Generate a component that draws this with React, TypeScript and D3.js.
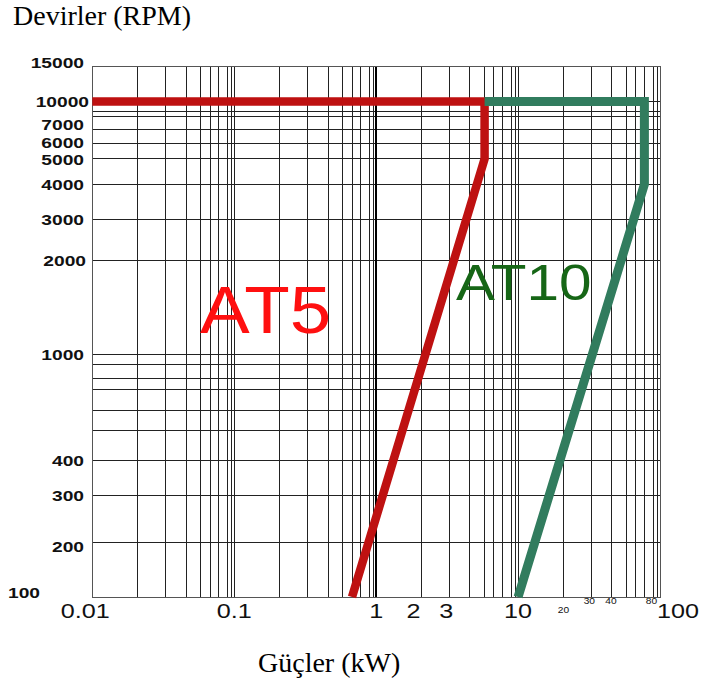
import React from 'react';
import * as d3 from 'd3';

// curves (kW, rpm)
const at5Power = [0.01, 5, 5, 0.6];
const at5Rpm = [10000, 10000, 5000, 100];
const at10Power = [5, 70, 70, 10];
const at10Rpm = [10000, 10000, 4000, 100];

const yTickValues = [15000, 10000, 7000, 6000, 5000, 4000, 3000, 2000, 1000, 400, 300, 200, 100];
const xTickLabels = ['0.01', '0.1', '1', '2', '3', '10', '100'];
const xSmallLabels = ['20', '30', '40', '80'];

// the paper is not a true log grid: grid values and where they sit (fraction of height)
const yStops = [100, 200, 300, 400, 500, 600, 700, 800, 900, 1000, 2000, 3000, 4000, 5000, 6000, 7000, 8000, 9000, 10000, 15000];
const yPaper = [0, .103, .192, .258, .313, .352, .390, .412, .437, .456, .633, .711, .777, .825, .854, .881, .905, .915, .933, 1];
const mantissaPaper = [0, .32, .516, .661, .764, .83, .89, .954, .98, 1];

const left = 92.3, right = 660, top = 66, bottom = 597;

const warp = d3.scaleLinear().domain([1, 2, 3, 4, 5, 6, 7, 8, 9, 10]).range(mantissaPaper);
const decades = d3.scaleLinear().domain([0, 4]).range([left, right]);
const x = (v: number) => {
  const d = Math.min(3, Math.floor(Math.log10(v / 0.01) + 1e-9));
  const m = v / (0.01 * Math.pow(10, d));
  return decades(d + warp(m));
};
const yLog = d3.scaleLinear()
  .domain(yStops.map(Math.log10))
  .range(yPaper.map(f => bottom - f * (bottom - top)));
const y = (v: number) => yLog(Math.log10(v));

const xGrid: number[] = [];
[0.01, 0.1, 1, 10].forEach(base => {
  for (let m = 1; m <= 9; m++) xGrid.push(+(m * base).toPrecision(3));
});

const line = d3.line<[number, number]>().x(d => x(d[0])).y(d => y(d[1]));
const zip = (a: number[], b: number[]) => a.map((v, i) => [v, b[i]] as [number, number]);

// hand placed labels on the original sheet
const xDx: Record<string, number> = { '0.01': -7, '2': -8, '3': -3, '100': 18 };
const xSmallDx: Record<string, number> = { '30': -2, '40': -1, '80': -2 };
const yDy: Record<number, number> = { 15000: -4, 7000: -5, 6000: -1, 5000: 1, 200: 4 };
const yDx: Record<number, number> = { 10000: 5, 2000: 2 };

const App = () => {
  return (
    <svg width={704} height={683} style={{ position: 'absolute', left: 0, top: 0, display: 'block', background: '#fff' }}>
      <text x={13} y={25} fontFamily="'Liberation Serif', 'Times New Roman', serif" fontSize={28}>Devirler (RPM)</text>
      <text x={258} y={672} fontFamily="'Liberation Serif', 'Times New Roman', serif" fontSize={28}>Güçler (kW)</text>

      <g shapeRendering="crispEdges" stroke="#222" strokeWidth={1}>
        {yStops.slice(0, -1).map(v => (
          <line key={'h' + v} x1={left} x2={right} y1={y(v)} y2={y(v)} />
        ))}
        {xGrid.map(v => (
          <line key={'v' + v} x1={x(v)} x2={x(v)} y1={top} y2={bottom}
            strokeWidth={v === 1 ? 2.5 : 1} stroke={v === 1 ? '#000' : '#222'} />
        ))}
        <rect x={left} y={top} width={right - left} height={bottom - top} fill="none" stroke="#555" />
      </g>

      <path d={line(zip(at5Power, at5Rpm)) || ''} fill="none" stroke="#be1111" strokeWidth={8.5} strokeLinejoin="miter" />
      <path d={line(zip(at10Power, at10Rpm)) || ''} fill="none" stroke="#317c5e" strokeWidth={9} strokeLinejoin="miter" />

      <text transform={`translate(200,333) scale(1.13,1)`} fontFamily="'Liberation Sans', Arial, sans-serif" fontSize={66} fill="#ff1010">AT5</text>
      <text transform={`translate(456,300) scale(1.17,1)`} fontFamily="'Liberation Sans', Arial, sans-serif" fontSize={50} fill="#166616">AT10</text>

      <g fontFamily="'Liberation Sans', Arial, sans-serif" fontWeight="bold" fontSize={15} fill="#111">
        {yTickValues.map(v => (
          v === 100
            ? <text key={v} transform={`translate(8,${y(v) + 1}) scale(1.28,1)`}>{v}</text>
            : <text key={v} textAnchor="end" transform={`translate(${84 + (yDx[v] || 0)},${y(v) + (yDy[v] || 0) + 5.5}) scale(1.28,1)`}>{v}</text>
        ))}
      </g>

      <g fontFamily="'Liberation Sans', Arial, sans-serif" fill="#111" textAnchor="middle">
        {xTickLabels.map(t => (
          <text key={t} fontSize={21} transform={`translate(${x(+t) + (xDx[t] || 0)},618) scale(1.2,1)`}>{t}</text>
        ))}
        {xSmallLabels.map(t => (
          <text key={t} fontSize={8.5} transform={`translate(${x(+t) + (xSmallDx[t] || 0)},${t === '20' ? 613 : 604}) scale(1.2,1)`}>{t}</text>
        ))}
      </g>
    </svg>
  );
};

export default App;
